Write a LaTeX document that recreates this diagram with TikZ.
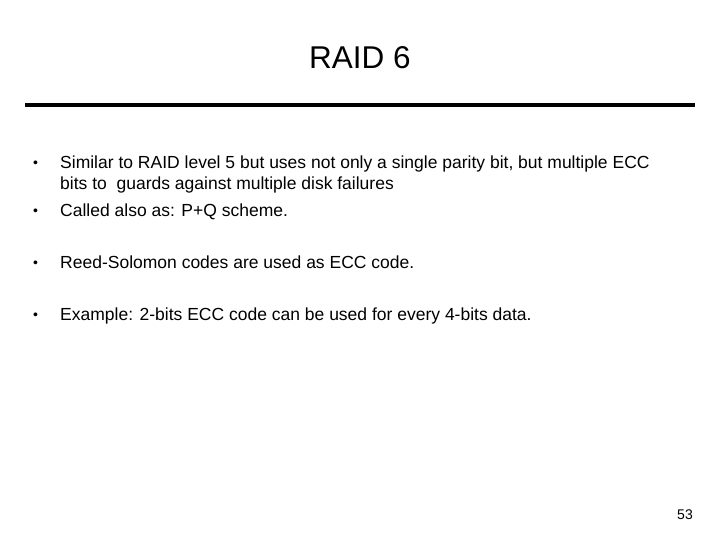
\documentclass[tikz,border=0pt]{standalone}
\usepackage{fontspec}
\setmainfont{Liberation Sans}
\usetikzlibrary{positioning}

\begin{document}
\begin{tikzpicture}[x=1pt, y=-1pt,
    bullet/.style={anchor=west, inner sep=0pt, font=\fontsize{14}{19}\selectfont},
    item/.style={anchor=north west, inner sep=0pt, align=left, font=\fontsize{17.5}{20.5}\selectfont}]
    \useasboundingbox (0,0) rectangle (720,540);
    \node[inner sep=0pt, font=\fontsize{31.5}{36}\selectfont] (title) at (360,58) {RAID 6};
    \draw[line width=4pt] (25,105) coordinate (rulel) -- (695,105) coordinate (ruler);

    \node[bullet] (b1) at (33,164) {•};
    \node[item] (t1) at (60,156) {Similar to RAID level 5 but uses not only a single parity bit, but multiple ECC\\bits to\ \ guards against multiple disk failures};
    \node[bullet] (b2) at (33,212) {•};
    \node[item] (t2) at (60,204) {Called also as: P+Q scheme.};
    \node[bullet] (b3) at (33,264) {•};
    \node[item] (t3) at (60,256) {Reed-Solomon codes are used as ECC code.};
    \node[bullet] (b4) at (33,316) {•};
    \node[item] (t4) at (60,308) {Example: 2-bits ECC code can be used for every 4-bits data.};

    \node[inner sep=0pt, font=\fontsize{14}{16}\selectfont] (page) at (685,515) {53};
\end{tikzpicture}
\end{document}
